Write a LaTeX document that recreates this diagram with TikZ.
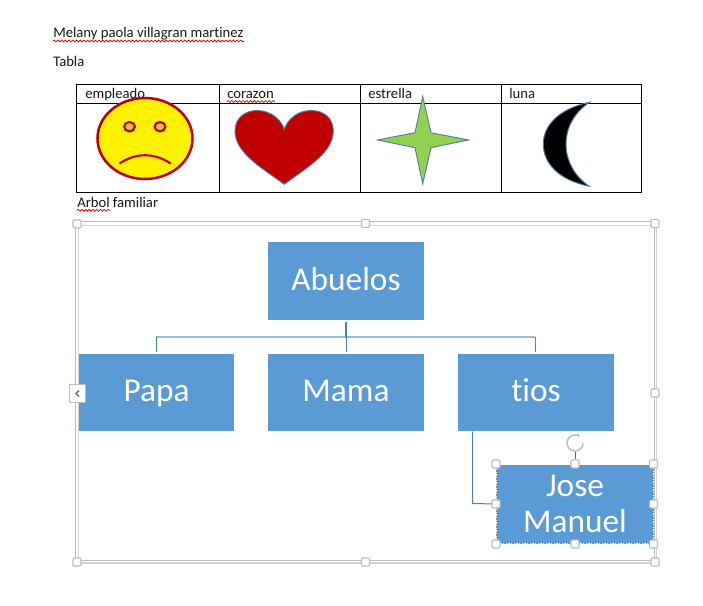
\documentclass[tikz,border=0pt]{standalone}
\usepackage{fontspec}
\setmainfont[RawFeature=-liga]{Carlito}
\usetikzlibrary{decorations.pathmorphing,arrows.meta}
\definecolor{boxblue}{HTML}{5B9BD5}
\definecolor{linkdark}{HTML}{4A82B4}
\definecolor{linklight}{HTML}{9DB9D8}
\definecolor{shapeedge}{HTML}{5080A8}
\definecolor{darkred}{HTML}{C00000}
\definecolor{stargreen}{HTML}{92D050}
\definecolor{frameg}{HTML}{BDBDBD}
\definecolor{framel}{HTML}{D4D4D4}
\newcommand{\orgtext}[1]{\raisebox{0pt}[14pt][0pt]{#1}}
\tikzset{
  doc/.style={anchor=base west,inner sep=0pt,font=\fontsize{11pt}{13pt}\selectfont,text=black!90},
  orgbox/.style={fill=boxblue,text=white,minimum width=117pt,minimum height=58pt,inner sep=0pt,align=center,font=\fontsize{25pt}{26.5pt}\selectfont},
  squig/.style={draw=red!90!black,line width=.55pt,decorate,decoration={snake,amplitude=.7pt,segment length=2.8pt}},
  tableline/.style={draw=black,line width=.75pt},
  handle/.style={draw=frameg,fill=white,rounded corners=.8pt,line width=.85pt,minimum size=6pt,inner sep=0pt},
  link/.style={draw=linkdark,line width=.75pt},
  smileline/.style={draw=darkred,line width=1.9pt},
}
\begin{document}
\begin{tikzpicture}[x=.75pt,y=-.75pt]
\useasboundingbox[fill=white] (0,0) rectangle (703,606);
% text above
\node[doc] (melany) at (53,38) {Melany paola villagran martinez};
\node[doc] (tabla) at (53,67) {Tabla};
\draw[squig] (53,41) -- (244,41);
% table
\draw[tableline] (76.5,84.5) rectangle (641.5,192.5);
\draw[tableline] (76.5,103.3) -- (641.5,103.3);
\foreach \x in {219.5,360.5,501.5} \draw[tableline] (\x,84.5) -- (\x,192.5);
\node[doc] (empleado) at (85,98.7) {empleado};
\node[doc] (corazon) at (227,98.7) {corazon};
\node[doc] (estrella) at (368,98.7) {estrella};
\node[doc] (luna) at (509,98.7) {luna};
\draw[squig] (227,101.5) -- (275,101.5);
\node[doc] (arbol) at (77,207.3) {Arbol familiar};
\draw[squig] (77,210.3) -- (110,210.3);
% smiley
\draw[smileline,fill=yellow] (145,138.5) ellipse [x radius=47.5,y radius=40.5];
\draw[draw=darkred,line width=1.6pt,fill=yellow!80!black] (129.5,126.7) ellipse [x radius=5.4,y radius=4.7];
\draw[draw=darkred,line width=1.6pt,fill=yellow!80!black] (160,126.7) ellipse [x radius=5.4,y radius=4.7];
\draw[smileline,line width=1.6pt] (119.5,163.5) .. controls (136,152.5) and (154,152.5) .. (170.5,163.5);
% heart
\draw[draw=shapeedge,line width=.7pt,fill=darkred] (284.3,184.3)
  .. controls (262,168) and (235,153) .. (235,131)
  .. controls (235,118) and (245,110.5) .. (257,110.5)
  .. controls (270,110.5) and (281,119) .. (284.3,129.3)
  .. controls (287.5,119) and (298,110.5) .. (311,110.5)
  .. controls (324,110.5) and (333.3,118) .. (333.3,131)
  .. controls (333.3,153) and (306,168) .. (284.3,184.3) -- cycle;
% star
\draw[draw=shapeedge,line width=.7pt,fill=stargreen] (422.7,96.5) -- (431,132.7) -- (468.5,140) -- (431,147.7)
  -- (422.7,183.8) -- (415,147.7) -- (377.5,140) -- (415,132.7) -- cycle;
% moon
\draw[draw=shapeedge,line width=.7pt,fill=black] (589.3,102.3)
  .. controls (558,109) and (543.3,126) .. (543.3,144)
  .. controls (543.3,163) and (558,180) .. (589.3,186.3)
  .. controls (574,176) and (566,160) .. (566,144)
  .. controls (566,128) and (574,113) .. (589.3,102.3) -- cycle;
% frame
\draw[frameg,line width=.9pt] (75.7,221.7) rectangle (654.3,560.8);
\draw[framel,line width=.9pt] (78.7,225.5) rectangle (656.7,563);
% org chart
\node[orgbox] (abuelos) at (346,281) {\orgtext{Abuelos}};
\node[orgbox,minimum width=116.25pt] (papa) at (156.5,392.5) {\orgtext{Papa}};
\node[orgbox] (mama) at (346,392.5) {\orgtext{Mama}};
\node[orgbox] (tios) at (536,392.5) {\orgtext{tios}};
\node[orgbox,text width=117pt] (jose) at (575,504) {Jose\\Manuel};
\coordinate (junction) at (346,337);
\coordinate (jl) at (156,337);
\coordinate (jr) at (535,337);
\coordinate (tiosdrop) at (472.5,431.5);
\coordinate (tioselbow) at (472.5,503.5);
\draw[linklight,line width=1.1pt] (jl) -- (junction) -- (jr);
\draw[link,line width=1.1pt] ([yshift=-1.5pt]abuelos.south) -- (junction);
\draw[link] (jl) -- ([yshift=1pt]jl |- papa.north);
\draw[link] (junction) -- ([yshift=1pt]mama.north);
\draw[link] (jr) -- ([xshift=-.75pt,yshift=1pt]tios.north);
\draw[link] (tiosdrop) -- (tioselbow) -- (jose.west);
% selection
\draw[black!45,dash pattern=on 1pt off 1pt,line width=.5pt] (jose.north west) rectangle (jose.south east);
\foreach \n/\x/\y in {ha/496/464,hb/575/464,hc/653.5/464,hd/496/504,he/653.5/504,hf/496/544,hg/575/544,hh/653.5/544,
  fa/77/224,fb/365.5/223.5,fc/655/223.5,fd/655/393,fe/655/562,ff/365.5/562,fg/77/562}
  \node[handle] (\n) at (\x,\y) {};
% rotate icon
\coordinate (rotc) at (575,443);
\draw[black!60,line width=.6pt] (hb.north) -- (575,452);
\draw[frameg,line width=1.1pt,-{Stealth[length=3.5pt]}] ([shift={(0:6pt)}]rotc) arc[start angle=0,end angle=-310,radius=6pt];
% collapse button
\node[draw=frameg,fill=white,line width=.6pt,minimum width=12pt,minimum height=14pt,inner sep=0pt] (collapse) at (77,393.5) {};
\draw[black!50,line width=1.1pt] (79,390.5) -- (76,393.5) -- (79,396.5);
\end{tikzpicture}
\end{document}
